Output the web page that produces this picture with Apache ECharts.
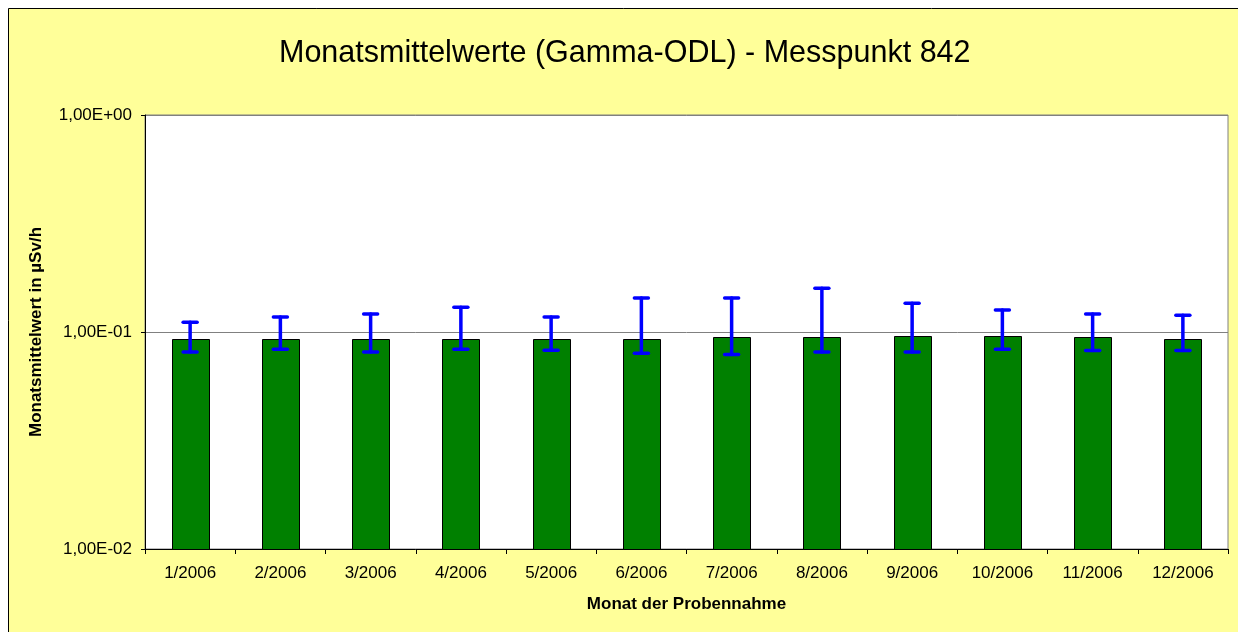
<!DOCTYPE html>
<html>
<head>
<meta charset="utf-8">
<script src="https://cdn.jsdelivr.net/npm/echarts@6/dist/echarts.min.js"></script>
<style>
html,body{margin:0;padding:0;background:#ffffff;}
#chart{width:1238px;height:632px;}
</style>
</head>
<body>
<div id="chart"></div>
<script>
const categories = ['1/2006','2/2006','3/2006','4/2006','5/2006','6/2006','7/2006','8/2006','9/2006','10/2006','11/2006','12/2006'];
const meanValues = [0.0932,0.0932,0.0932,0.0932,0.0932,0.0932,0.0945,0.0945,0.0958,0.0958,0.0945,0.0932];
const errLow  = [0.0809,0.0832,0.0809,0.0832,0.0824,0.0798,0.0787,0.0809,0.0809,0.0832,0.0821,0.0821];
const errHigh = [0.1108,0.1172,0.1210,0.1300,0.1172,0.1434,0.1434,0.1590,0.1356,0.1263,0.1210,0.1194];
const yTicks = [0.01, 0.1, 1];
const yTickLabels = ['1,00E-02','1,00E-01','1,00E+00'];

const FONT = '"Liberation Sans", Arial, sans-serif';
const chart = echarts.init(document.getElementById('chart'), null, {renderer:'canvas'});

const barData = categories.map((c,i)=>[i, meanValues[i]]);
const errData = categories.map((c,i)=>[i, errLow[i], errHigh[i]]);

chart.setOption({
  backgroundColor: '#ffffff',
  animation: false,
  graphic: [{
    type: 'rect', z: -100, silent: true,
    shape: {x: 8.5, y: 8.5, width: 1260, height: 660},
    style: {fill: '#FFFF99', stroke: '#000000', lineWidth: 1}
  }],
  title: {
    text: 'Monatsmittelwerte (Gamma-ODL) - Messpunkt 842',
    left: 274, top: 33,
    textStyle: {fontFamily: FONT, fontSize: 30.5, fontWeight: 'normal', color: '#000'}
  },
  grid: {
    left: 145, right: 10, top: 115, bottom: 83,
    show: true, backgroundColor: '#ffffff', borderColor: '#808080', borderWidth: 1
  },
  xAxis: {
    type: 'category', data: categories, boundaryGap: true,
    name: 'Monat der Probennahme', nameLocation: 'middle', nameGap: 47,
    nameTextStyle: {fontFamily: FONT, fontSize: 17, fontWeight: 'bold', color: '#000'},
    axisLine: {show: true, lineStyle: {color: '#000', width: 1}},
    axisTick: {show: true, alignWithLabel: false, length: 5, lineStyle: {color: '#000'}},
    axisLabel: {fontFamily: FONT, fontSize: 17, color: '#000', margin: 16, interval: 0},
    splitLine: {show: false}
  },
  yAxis: {
    type: 'log', logBase: 10, min: 0.01, max: 1,
    name: 'Monatsmittelwert in µSv/h', nameLocation: 'middle', nameGap: 100, nameRotate: 90,
    nameTextStyle: {fontFamily: FONT, fontSize: 17, fontWeight: 'bold', color: '#000'},
    axisLine: {show: true, lineStyle: {color: '#000', width: 1}},
    axisTick: {show: true, inside: false, length: 4, lineStyle: {color: '#000'}},
    minorTick: {show: false},
    axisLabel: {
      fontFamily: FONT, fontSize: 17, color: '#000', margin: 13,
      formatter: function(v){
        for (let i=0;i<yTicks.length;i++){ if (Math.abs(v-yTicks[i])/yTicks[i] < 1e-6) return yTickLabels[i]; }
        return '';
      }
    },
    splitLine: {show: true, lineStyle: {color: '#808080', width: 1}}
  },
  series: [
    {
      type: 'custom', name: 'Mittelwert', z: 2,
      data: barData,
      encode: {x: 0, y: 1},
      renderItem: function(params, api){
        const top = api.coord([api.value(0), api.value(1)]);
        const base = api.coord([api.value(0), 0.01]);
        const w = 37;
        return {
          type: 'rect',
          shape: {x: Math.round(top[0]-w/2)+0.5, y: Math.round(top[1])+0.5, width: w, height: Math.round(base[1])-Math.round(top[1])},
          style: {fill: '#008000', stroke: '#000000', lineWidth: 1}
        };
      }
    },
    {
      type: 'custom', name: 'Fehler', z: 3,
      data: errData,
      encode: {x: 0, y: [1,2]},
      renderItem: function(params, api){
        const lo = api.coord([api.value(0), api.value(1)]);
        const hi = api.coord([api.value(0), api.value(2)]);
        const cap = 7;
        const st = {stroke: '#0000FF', lineWidth: 3.5, lineCap: 'round'};
        return {
          type: 'group',
          children: [
            {type: 'line', shape: {x1: hi[0], y1: hi[1], x2: lo[0], y2: lo[1]}, style: st},
            {type: 'line', shape: {x1: hi[0]-cap, y1: hi[1], x2: hi[0]+cap, y2: hi[1]}, style: st},
            {type: 'line', shape: {x1: lo[0]-cap, y1: lo[1], x2: lo[0]+cap, y2: lo[1]}, style: st}
          ]
        };
      }
    }
  ]
});
</script>
</body>
</html>
